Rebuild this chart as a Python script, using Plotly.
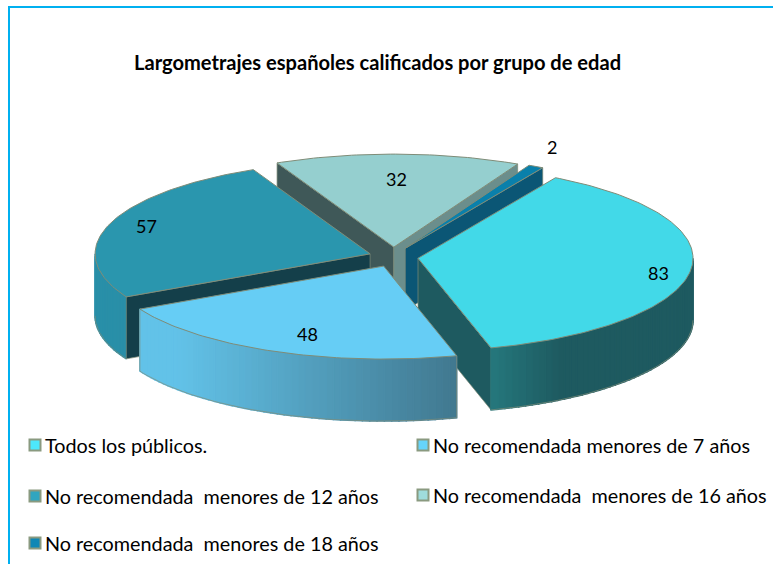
import math
import plotly.graph_objects as go

# ---- data ----
categories = ["Todos los públicos.", "No recomendada menores de 7 años",
              "No recomendada  menores de 12 años", "No recomendada  menores de 16 años",
              "No recomendada  menores de 18 años"]
values = [83, 48, 57, 32, 2]
title = "Largometrajes españoles calificados por grupo de edad"

# ---- styling ----
top_colors = ["#42d9e8", "#66cdf5", "#2a96ae", "#95cfcf", "#0a80ab"]
swatch_colors = ["#4de8fc", "#66d4fb", "#30a5bf", "#9fdcdc", "#0e87b5"]
OUTLINE = "#7f8c78"
CX, CY, A, B, DEPTH = 393.5, 257, 275, 93, 62
EXPLODE_X, EXPLODE_Y = 24.7, 9.9
START = 30.0
FONT = "Lato, Carlito, sans-serif"
label_frac = [0.88, 0.69, 0.86, 0.73, 1.12]
label_dy = [4, 9, -2, 0, -10]

total = sum(values)
spans = [v / total * 360 for v in values]
starts = [START + sum(spans[:i]) for i in range(len(values))]
fig = go.Figure()


def apex(i):
    m = math.radians(starts[i] + spans[i] / 2)
    return CX + EXPLODE_X * math.sin(m), CY - EXPLODE_Y * math.cos(m)


def rim(i, deg, dz=0):
    ax, ay = apex(i)
    t = math.radians(deg)
    return ax + A * math.sin(t), ay - B * math.cos(t) + dz


def poly(xs, ys, fill, line=None, width=1.5, name=None):
    fig.add_trace(go.Scatter(x=xs, y=ys, mode="lines", fill="toself", fillcolor=fill,
                             line=dict(color=line or fill, width=width),
                             showlegend=False, hoverinfo="skip" if name is None else "name",
                             name=name))


def mix(c1, c2, f):
    a = [int(c1[k:k + 2], 16) for k in (1, 3, 5)]
    b = [int(c2[k:k + 2], 16) for k in (1, 3, 5)]
    return "#%02x%02x%02x" % tuple(round(p + (q - p) * f) for p, q in zip(a, b))


def radial_wall(i, deg, color):
    ax, ay = apex(i)
    rx, ry = rim(i, deg)
    poly([ax, rx, rx, ax, ax], [ay, ry, ry + DEPTH, ay + DEPTH, ay], color, OUTLINE, 0.7)


def outer_wall(i, d0, d1, ramp):
    n = max(2, int((d1 - d0) / 1.5))
    for k in range(n):
        a0 = d0 + (d1 - d0) * k / n
        a1 = d0 + (d1 - d0) * (k + 1) / n
        p0, p1 = rim(i, a0), rim(i, a1)
        xc = (p0[0] + p1[0]) / 2
        poly([p0[0], p1[0], p1[0], p0[0], p0[0]],
             [p0[1], p1[1], p1[1] + DEPTH, p0[1] + DEPTH, p0[1]], ramp(xc))
    pts = [d0 + (d1 - d0) * k / n for k in range(n + 1)]
    xb = [rim(i, d)[0] for d in pts]
    yb = [rim(i, d, DEPTH)[1] for d in pts]
    fig.add_trace(go.Scatter(x=xb, y=yb, mode="lines", line=dict(color=OUTLINE, width=0.7),
                             showlegend=False, hoverinfo="skip"))


def top_face(i):
    ax, ay = apex(i)
    n = max(4, int(spans[i]))
    pts = [starts[i] + spans[i] * k / n for k in range(n + 1)]
    xs = [ax] + [rim(i, d)[0] for d in pts] + [ax]
    ys = [ay] + [rim(i, d)[1] for d in pts] + [ay]
    poly(xs, ys, top_colors[i], OUTLINE, 1, categories[i])


def ramp83(x):
    return mix("#25787d", "#1e5a60", min(1, max(0, (x - 490) / 70)))


def ramp48(x):
    return mix("#41788f", "#62c2e8", min(1, max(0, (457 - x) / 280)))


def ramp57(x):
    return "#298fa8"


# slice 32 (back)
radial_wall(3, starts[3], "#3f5858")
radial_wall(3, starts[3] + spans[3], "#6b8e8c")
top_face(3)
# slice 2
radial_wall(4, starts[4] + spans[4], "#0b5675")
top_face(4)
# slice 57
outer_wall(2, starts[2], 270, ramp57)
radial_wall(2, starts[2], "#143f4a")
top_face(2)
# slice 83
radial_wall(0, starts[0] + spans[0], "#1e5a60")
outer_wall(0, 90, starts[0] + spans[0], ramp83)
top_face(0)
# slice 48 (front)
outer_wall(1, starts[1], starts[1] + spans[1], ramp48)
for d in (starts[1], starts[1] + spans[1]):
    x0, y0 = rim(1, d)
    fig.add_trace(go.Scatter(x=[x0, x0], y=[y0, y0 + DEPTH], mode="lines",
                             line=dict(color=OUTLINE, width=0.7),
                             showlegend=False, hoverinfo="skip"))
top_face(1)

annotations = []
for i, v in enumerate(values):
    ax, ay = apex(i)
    m = math.radians(starts[i] + spans[i] / 2)
    annotations.append(dict(x=ax + A * label_frac[i] * math.sin(m),
                            y=ay - B * label_frac[i] * math.cos(m) + label_dy[i],
                            text=str(v), showarrow=False,
                            font=dict(family=FONT, size=18, color="#000000")))

# legend
legend_pos = [(35, 445), (423, 445), (35, 496), (423, 495), (35, 543)]
for i, (lx, ly) in enumerate(legend_pos):
    fig.add_trace(go.Scatter(x=[lx], y=[ly], mode="markers", showlegend=False, hoverinfo="skip",
                             marker=dict(symbol="square", size=11, color=swatch_colors[i],
                                         line=dict(color="#8a9a80", width=2))))
    annotations.append(dict(x=lx + 8, y=ly, xanchor="left", showarrow=False,
                            text=categories[i].replace("  ", "\u00a0\u00a0"),
                            font=dict(family=FONT, size=19.8, color="#000000")))

annotations.append(dict(x=377, y=62, showarrow=False, text="<b>" + title + "</b>",
                        font=dict(family=FONT, size=20.1, color="#000000")))

fig.update_layout(
    width=773, height=564, margin=dict(l=0, r=0, t=0, b=0),
    paper_bgcolor="#ffffff", plot_bgcolor="#ffffff", showlegend=False,
    xaxis=dict(range=[0, 773], visible=False, fixedrange=True),
    yaxis=dict(range=[564, 0], visible=False, fixedrange=True),
    annotations=annotations,
    shapes=[dict(type="path", path="M 9 570 L 9 7 L 780 7",
                 line=dict(color="#00b0f0", width=2), xref="x", yref="y")],
)
fig.write_html("out.html", config={"displayModeBar": False},
               post_script="document.body.style.margin='0';document.documentElement.style.overflow='hidden';")
